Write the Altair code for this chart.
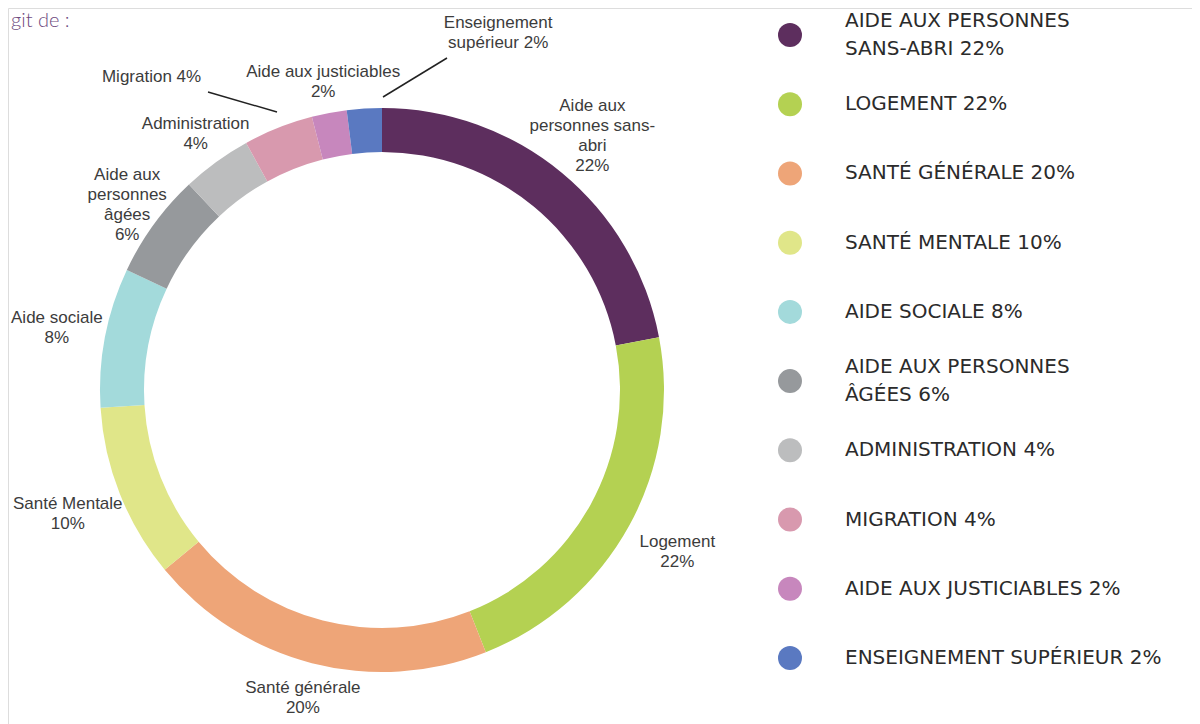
import altair as alt
import pandas as pd

# ---- data ----
categories = [
    "Aide aux personnes sans-abri", "Logement", "Santé générale", "Santé mentale",
    "Aide sociale", "Aide aux personnes âgées", "Administration", "Migration",
    "Aide aux justiciables", "Enseignement supérieur",
]
values = [22, 22, 20, 10, 8, 6, 4, 4, 2, 2]
ring_labels = [
    "Aide aux\npersonnes sans-\nabri\n22%", "Logement\n22%", "Santé générale\n20%",
    "Santé Mentale\n10%", "Aide sociale\n8%", "Aide aux\npersonnes\nâgées\n6%",
    "Administration\n4%", "Migration 4%", "Aide aux justiciables\n2%",
    "Enseignement\nsupérieur 2%",
]
legend_labels = [
    "AIDE AUX PERSONNES\nSANS-ABRI 22%", "LOGEMENT 22%", "SANTÉ GÉNÉRALE 20%",
    "SANTÉ MENTALE 10%", "AIDE SOCIALE 8%", "AIDE AUX PERSONNES\nÂGÉES 6%",
    "ADMINISTRATION 4%", "MIGRATION 4%", "AIDE AUX JUSTICIABLES 2%",
    "ENSEIGNEMENT SUPÉRIEUR 2%",
]
colors = ["#5d2e5e", "#b4d152", "#eea578", "#e0e689", "#a3dadb",
          "#96999c", "#bcbdbe", "#d899ae", "#c787bd", "#5a79c1"]

# layout (label distance from centre, pixels)
label_radius = [330, 337, 318, 338, 331, 315, 317, 300, 314, 300]

df = pd.DataFrame({
    "cat": categories, "value": values, "idx": list(range(len(values))),
    "lab": ring_labels, "leg": legend_labels, "lr": label_radius,
})

CX, CY = 374, 382
W, H = 1184, 716
LH = 20
TWO_PI = 6.283185307179586
theta_scale = alt.Scale(domain=[0, 100], range=[0, TWO_PI])
color_scale = alt.Scale(domain=categories, range=colors)

base = alt.Chart(df)

ring = base.mark_arc(outerRadius=282, innerRadius=238, strokeWidth=0).encode(
    theta=alt.Theta("value:Q", stack=True, scale=theta_scale),
    order=alt.Order("idx:Q"),
    color=alt.Color("cat:N", scale=color_scale, legend=None),
    x=alt.value(CX), y=alt.value(CY),
)

lab_base = base.transform_window(
    cum="sum(value)", sort=[alt.SortField("idx", order="ascending")]
).transform_calculate(
    mid="datum.cum - datum.value / 2",
    nl="length(split(datum.lab, '\\n'))",
)

text_props = dict(font="Liberation Sans", fontSize=17, color="#3c3c3c",
                  align="center", baseline="middle", lineBreak="\n", lineHeight=LH)

def lab_layer(flt, dx=0, dy=0):
    return lab_base.transform_filter(flt).mark_text(dx=dx, dy=dy, **text_props).encode(
        theta=alt.Theta("mid:Q", scale=theta_scale),
        radius=alt.Radius("lr:Q", scale=None),
        text="lab:N",
        x=alt.value(CX), y=alt.value(CY),
    )

special = "(datum.cat == 'Migration' || datum.cat == 'Enseignement supérieur')"
labels2 = lab_layer(f"!{special} && datum.nl == 2", dy=-LH / 2)
labels4 = lab_layer(f"!{special} && datum.nl == 4", dy=-1.5 * LH)
mig_label = lab_layer("datum.cat == 'Migration'", dx=-120, dy=-34)
ens_label = lab_layer("datum.cat == 'Enseignement supérieur'", dx=135, dy=-68)

lead1 = base.transform_filter("datum.cat == 'Migration'").mark_rule(
    color="#222222", strokeWidth=1.5).encode(
    x=alt.value(200), y=alt.value(84), x2=alt.value(269), y2=alt.value(104))
lead2 = base.transform_filter("datum.cat == 'Enseignement supérieur'").mark_rule(
    color="#222222", strokeWidth=1.5).encode(
    x=alt.value(375), y=alt.value(89), x2=alt.value(439), y2=alt.value(50))

ypos = alt.Y("cat:N", sort=categories, axis=None,
             scale=alt.Scale(type="point", range=[27, 650], padding=0))

leg_dots = base.mark_point(filled=True, shape="circle", size=576, opacity=1).encode(
    y=ypos, x=alt.value(782),
    color=alt.Color("cat:N", scale=color_scale, legend=None),
)
leg_base = base.transform_calculate(nl="length(split(datum.leg, '\\n'))")
leg_props = dict(font="DejaVu Sans", fontSize=20, color="#2b2b2b",
                 align="left", baseline="middle", lineBreak="\n", lineHeight=28)
leg_text1 = leg_base.transform_filter("datum.nl == 1").mark_text(**leg_props).encode(
    y=ypos, x=alt.value(837), text="leg:N")
leg_text2 = leg_base.transform_filter("datum.nl == 2").mark_text(dy=-14, **leg_props).encode(
    y=ypos, x=alt.value(837), text="leg:N")

head = alt.Chart(pd.DataFrame({"t": ["git de :"]})).mark_text(
    font="Lato", fontSize=20, fontWeight=300, color="#6e4a7e",
    align="left", baseline="top").encode(
    text="t:N", x=alt.value(3), y=alt.value(3))

chart = alt.layer(
    ring, labels2, labels4, mig_label, ens_label, lead1, lead2,
    leg_dots, leg_text1, leg_text2, head
).properties(
    width=W, height=H, padding=0,
    autosize=alt.AutoSizeParams(type="none"),
).configure_view(stroke="transparent", strokeWidth=0).configure(background="white")

chart.save("out.html", embed_options={"renderer": "svg", "actions": False})
